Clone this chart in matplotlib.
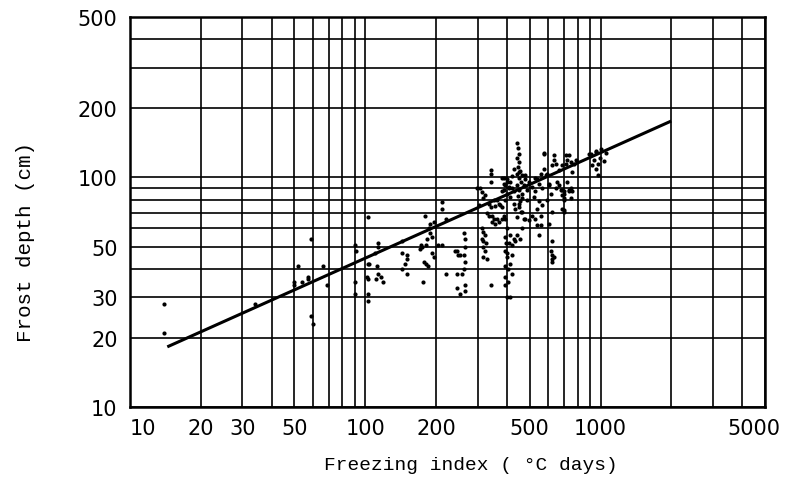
import matplotlib.pyplot as plt
from matplotlib.ticker import FixedLocator, FixedFormatter, LogLocator, NullFormatter
from matplotlib.transforms import ScaledTranslation
import numpy as np

# freezing index (deg C days) vs frost depth (cm)
freezing_index = [
    14, 14, 34, 52, 59, 50, 50, 54, 57, 57, 66, 69, 59, 60,
    90, 91, 90, 90, 103, 113, 113, 110, 103, 104, 112, 102, 103, 103, 103, 113, 111, 117, 119,
    143, 143, 150, 150, 148, 151, 172, 170, 181, 183, 192, 192, 196, 212, 181, 176, 179,
    211, 211, 220, 245, 245, 245, 253, 253, 220, 143, 177, 184, 188, 195, 187, 188, 204, 174,
    343, 343, 341, 308, 313, 324, 381, 388, 400, 407,
    363, 369, 375, 357, 381, 334, 341,
    329, 334, 345, 351, 363, 345, 357, 369, 381, 388,
    313, 318, 324, 313, 318, 326, 318, 324, 318, 329,
    262, 266, 266, 241, 248, 262, 266, 262, 258, 266, 266, 341,
    394, 397, 400, 404, 404, 318, 303, 351, 381, 298,
    442, 446, 449, 442, 451, 446, 456, 442, 449, 460, 442, 451, 464, 446, 456, 449, 460, 442,
    387, 401, 414, 394, 408, 421, 387, 401, 428, 414, 394, 428,
    479, 496, 512, 529, 547, 565, 574, 584, 604, 624, 634, 645, 655, 666, 688,
    699, 711, 723, 735, 747, 699, 624, 565, 520, 488, 472, 496, 529, 556, 604,
    394, 401, 414, 428, 442, 456, 408, 421, 435, 394, 401, 421, 394, 414, 394, 421, 394, 401, 414,
    614, 624, 624, 624, 547, 464,
    428, 421, 449, 464, 472, 479, 488, 464, 449, 435, 464, 479, 512, 538, 547, 529, 538, 556,
    574, 594, 604, 614, 594, 556, 538,
    735, 723, 747, 772, 711, 759, 784, 909, 955, 940, 924, 955, 971, 971,
    688, 699, 699, 735, 759, 747, 699,
    574, 634, 645, 895, 666, 677, 688, 699, 688, 634, 624,
    960, 1000, 1050, 990, 1030,
]
frost_depth = [
    28, 21, 28, 41, 54, 35, 34, 35, 37, 36, 41, 34, 25, 23,
    51, 48, 35, 31, 67, 52, 50, 47, 42, 42, 41, 37, 36, 31, 29, 38, 36, 37, 35,
    53, 47, 46, 44, 42, 38, 51, 49, 51, 54, 55, 47, 45, 51, 42, 35, 68,
    78, 73, 66, 48, 38, 33, 46, 31, 38, 40, 43, 41, 63, 64, 60, 57, 51, 50,
    108, 104, 96, 90, 86, 84, 99, 94, 96, 90,
    80, 77, 76, 75, 74, 77, 74,
    70, 68, 68, 66, 66, 64, 63, 64, 66, 68,
    60, 58, 56, 54, 53, 52, 50, 48, 45, 44,
    57, 54, 50, 48, 46, 46, 43, 40, 38, 34, 32, 34,
    55, 52, 47, 40, 35, 81, 76, 80, 87, 90,
    141, 134, 127, 121, 117, 111, 107, 104, 99, 96, 93, 88, 85, 83, 79, 74, 71, 67,
    99, 98, 96, 93, 91, 90, 88, 85, 87, 82, 80, 77,
    102, 96, 91, 99, 94, 90, 127, 102, 93, 113, 119, 90, 96, 108, 113,
    87, 125, 96, 87, 81, 72, 71, 76, 82, 80, 66, 65, 66, 62, 63,
    66, 60, 56, 54, 56, 54, 52, 51, 53, 48, 45, 46, 41, 42, 37, 38, 34, 30, 30,
    48, 46, 44, 53, 56, 60,
    109, 101, 106, 102, 93, 98, 88, 81, 77, 73, 71, 66, 68, 73, 79, 87, 98, 104,
    109, 104, 94, 85, 80, 68, 62,
    125, 119, 117, 115, 115, 106, 119, 127, 129, 119, 113, 109, 115, 102,
    88, 85, 81, 88, 87, 90, 71,
    128, 125, 115, 127, 93, 88, 84, 80, 73, 45, 43,
    131, 133, 128, 121, 118,
]

# fitted line end points
line_x = [14.6, 1970]
line_y = [18.4, 175]

x_ticks = [10, 20, 30, 50, 100, 200, 500, 1000, 5000]
y_ticks = [10, 20, 30, 50, 100, 200, 500]

fig = plt.figure(figsize=(7.88, 4.89), dpi=100)
ax = fig.add_axes([0.165, 0.1656, 0.8058, 0.7976])
ax.set_xscale('log')
ax.set_yscale('log')
ax.set_xlim(10, 5000)
ax.set_ylim(10, 500)

ax.xaxis.set_major_locator(FixedLocator(x_ticks))
ax.xaxis.set_major_formatter(FixedFormatter([str(v) for v in x_ticks]))
ax.yaxis.set_major_locator(FixedLocator(y_ticks))
ax.yaxis.set_major_formatter(FixedFormatter([str(v) for v in y_ticks]))
for axis in (ax.xaxis, ax.yaxis):
    axis.set_minor_locator(LogLocator(base=10, subs=np.arange(1, 10), numticks=30))
    axis.set_minor_formatter(NullFormatter())

ax.grid(which='both', color='black', linewidth=1.2)
ax.tick_params(which='both', length=0, labelsize=15)
ax.tick_params(axis='x', pad=8)
ax.tick_params(axis='y', pad=9)
for lbl in ax.get_xticklabels():
    if lbl.get_text() == '10':
        lbl.set_ha('left')
    if lbl.get_text() == '5000':
        # keep the last label inside the figure
        lbl.set_transform(lbl.get_transform() + ScaledTranslation(-8 / 72, 0, fig.dpi_scale_trans))
for s in ax.spines.values():
    s.set_linewidth(1.8)

ax.scatter(freezing_index, frost_depth, s=9, color='black', linewidths=0, zorder=3)
ax.plot(line_x, line_y, color='black', linewidth=2.2, zorder=4)

fig.text(0.032, 0.505, 'Frost depth (cm)', rotation=90, family='Liberation Mono',
         fontsize=15, ha='center', va='center')
fig.text(0.598, 0.049, 'Freezing index ( \u00b0C days)', family='Liberation Mono',
         fontsize=14, ha='center', va='center')

fig.savefig('out.png', dpi=100)
